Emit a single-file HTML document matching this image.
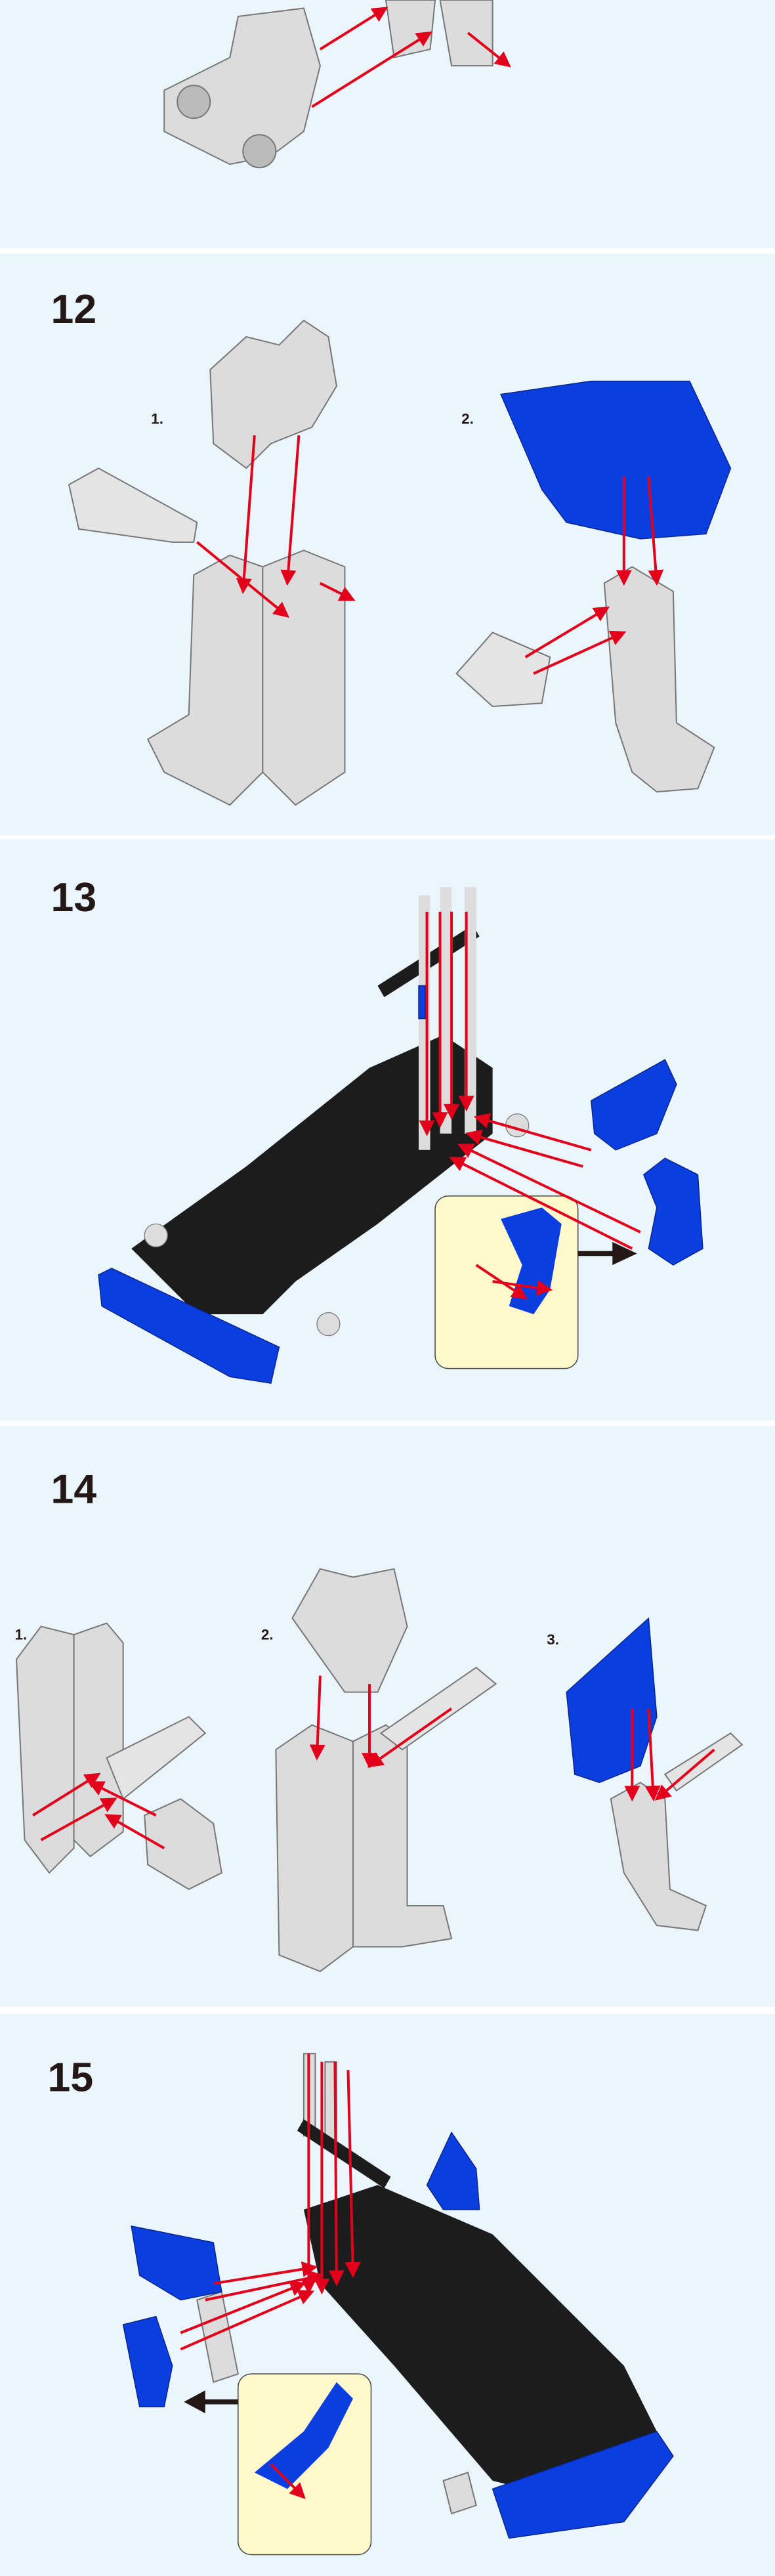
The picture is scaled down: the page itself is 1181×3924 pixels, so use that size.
<!DOCTYPE html>
<html><head><meta charset="utf-8"><style>
html,body{margin:0;padding:0;background:#fff}
svg{display:block}
</style></head><body>
<svg width="1181" height="3924" viewBox="0 0 472 1568" preserveAspectRatio="none" xmlns="http://www.w3.org/2000/svg">
<defs>
<marker id="ah" markerWidth="6" markerHeight="6" refX="5" refY="3" orient="auto" markerUnits="strokeWidth"><path d="M0,0 L6,3 L0,6 z" fill="#e3001b"/></marker>
</defs>
<g fill="#eaf5fc">
<rect x="0" y="0" width="472" height="151"/>
<rect x="0" y="154.4" width="472" height="354"/>
<rect x="0" y="511" width="472" height="353.5"/>
<rect x="0" y="868" width="472" height="353.5"/>
<rect x="0" y="1226" width="472" height="342"/>
</g>
<g font-family="Liberation Sans, sans-serif" font-weight="bold" fill="#231815">
<text x="31" y="196.6" font-size="25">12</text>
<text x="31" y="554.6" font-size="25">13</text>
<text x="31" y="914.8" font-size="25">14</text>
<text x="29" y="1273" font-size="25">15</text>
<text x="92" y="258" font-size="9">1.</text>
<text x="281" y="258" font-size="9">2.</text>
<text x="9" y="998" font-size="9">1.</text>
<text x="159" y="998" font-size="9">2.</text>
<text x="333" y="1001" font-size="9">3.</text>
</g>
<g stroke="#777" stroke-width="0.8" fill="#dcdcdc">
<!-- panel 1 -->
<path d="M100,55 L140,35 L145,10 L185,5 L195,40 L185,80 L165,95 L140,100 L100,80 Z"/>
<circle cx="118" cy="62" r="10" fill="#bbb"/><circle cx="158" cy="92" r="10" fill="#bbb"/>
<path d="M235,0 L265,0 L262,30 L240,35 Z"/><path d="M268,0 L300,0 L300,40 L275,40 Z"/>
<!-- panel 2 -->
<path d="M128,225 L150,205 L170,210 L185,195 L200,205 L205,235 L190,260 L165,270 L150,285 L130,270 Z"/>
<path d="M42,295 L60,285 L120,318 L118,330 L105,330 L48,322 Z" fill="#e4e4e4"/>
<path d="M118,350 L140,338 L160,345 L160,470 L140,490 L100,470 L90,450 L115,435 Z"/>
<path d="M160,345 L185,335 L210,345 L210,470 L180,490 L160,470 Z"/>
<path d="M368,355 L385,345 L410,360 L412,440 L435,455 L425,480 L400,482 L385,470 L375,440 Z"/>
<path d="M278,410 L300,385 L335,400 L330,428 L300,430 Z" fill="#e4e4e4"/>
<!-- panel 3 inset pieces -->
<path d="M275,765 L285,755 L300,758 L300,770 L288,778 Z"/>
<path d="M310,815 L320,812 L322,828 L312,830 Z"/>
<!-- panel 4 -->
<path d="M10,1010 L25,990 L45,995 L45,1125 L30,1140 L15,1120 Z"/>
<path d="M45,995 L65,988 L75,1000 L75,1115 L55,1130 L45,1120 Z"/>
<path d="M65,1070 L115,1045 L125,1055 L75,1095 Z" fill="#e4e4e4"/>
<path d="M88,1105 L110,1095 L130,1110 L135,1140 L115,1150 L90,1135 Z"/>
<path d="M178,985 L195,955 L215,960 L240,955 L248,990 L230,1030 L210,1030 Z"/>
<path d="M168,1065 L190,1050 L215,1060 L215,1185 L195,1200 L170,1190 Z"/>
<path d="M215,1060 L235,1050 L248,1060 L248,1160 L270,1160 L275,1180 L245,1185 L215,1185 Z"/>
<path d="M232,1055 L290,1015 L302,1025 L245,1065 Z" fill="#e4e4e4"/>
<path d="M372,1095 L390,1085 L405,1095 L408,1150 L430,1160 L425,1175 L400,1172 L380,1140 Z"/>
<path d="M405,1080 L445,1055 L452,1062 L412,1090 Z" fill="#e4e4e4"/>
<!-- panel 5 grey bits -->
<path d="M120,1400 L135,1395 L145,1445 L130,1450 Z"/>
<path d="M185,1250 L192,1250 L192,1300 L185,1300 Z"/>
<path d="M198,1255 L205,1255 L205,1305 L198,1305 Z"/>
<path d="M150,1460 L165,1455 L170,1475 L155,1480 Z"/>
<path d="M270,1510 L285,1505 L290,1525 L275,1530 Z"/>
</g>
<!-- black chassis panel 3 -->
<path d="M80,760 L150,710 L225,650 L270,630 L300,650 L300,690 L230,745 L180,780 L160,800 L120,800 Z" fill="#1c1c1c"/>
<path d="M230,600 L288,563 L292,570 L234,607 Z" fill="#1c1c1c"/>
<path d="M255,545 L262,545 L262,700 L255,700 Z" fill="#ddd"/>
<path d="M268,540 L275,540 L275,690 L268,690 Z" fill="#ddd"/>
<path d="M283,540 L290,540 L290,690 L283,690 Z" fill="#ddd"/>
<circle cx="95" cy="752" r="7" fill="#ddd" stroke="#777" stroke-width="0.5"/>
<circle cx="200" cy="806" r="7" fill="#ddd" stroke="#777" stroke-width="0.5"/>
<circle cx="315" cy="685" r="7" fill="#ddd" stroke="#777" stroke-width="0.5"/>
<!-- blue parts panel 3 -->
<g fill="#0a3ee0" stroke="#08268a" stroke-width="0.6">
<path d="M60,776 L68,772 L170,820 L165,842 L140,838 L62,795 Z"/>
<path d="M360,670 L405,645 L412,660 L400,690 L375,700 L362,690 Z"/>
<path d="M392,715 L405,705 L425,715 L428,760 L410,770 L395,760 L400,735 Z"/>
<path d="M255,600 L259,600 L259,620 L255,620 Z"/>
</g>
<rect x="265" y="728" width="87" height="105" rx="8" fill="#fff9cc" stroke="#444" stroke-width="0.6"/>
<path d="M305,742 L330,735 L342,745 L335,785 L325,800 L310,795 L318,770 Z" fill="#0a3ee0"/>
<path d="M352,763 L375,763" stroke="#231815" stroke-width="3"/>
<path d="M373,756 L388,763 L373,770 Z" fill="#231815"/>
<!-- panel 2 blue shield -->
<path d="M305,240 L360,232 L420,232 L445,285 L430,325 L390,328 L345,318 L330,298 Z" fill="#0a3ee0" stroke="#08268a" stroke-width="0.6"/>
<!-- panel 4 blue -->
<path d="M345,1030 L395,985 L400,1045 L390,1075 L365,1085 L350,1080 Z" fill="#0a3ee0" stroke="#08268a" stroke-width="0.6"/>
<!-- panel 5 chassis -->
<path d="M185,1345 L230,1330 L300,1360 L380,1440 L405,1490 L360,1525 L300,1510 L240,1440 L195,1390 Z" fill="#1c1c1c"/>
<path d="M185,1290 L238,1325 L234,1332 L181,1297 Z" fill="#1c1c1c"/>
<g fill="#0a3ee0" stroke="#08268a" stroke-width="0.6">
<path d="M300,1515 L400,1480 L410,1495 L380,1535 L310,1545 Z"/>
<path d="M80,1355 L130,1365 L135,1395 L110,1400 L85,1385 Z"/>
<path d="M75,1415 L95,1410 L105,1440 L100,1465 L85,1465 Z"/>
<path d="M260,1330 L275,1298 L290,1320 L292,1345 L270,1345 Z"/>
</g>
<rect x="145" y="1445" width="81" height="110" rx="8" fill="#fff9cc" stroke="#444" stroke-width="0.6"/>
<path d="M155,1505 L185,1480 L205,1450 L215,1460 L200,1490 L175,1515 Z" fill="#0a3ee0"/>
<path d="M145,1462 L122,1462" stroke="#231815" stroke-width="3"/>
<path d="M125,1455 L112,1462 L125,1469 Z" fill="#231815"/>
<!-- red arrows -->
<g stroke="#e3001b" stroke-width="1.6" fill="none" marker-end="url(#ah)">
<path d="M190,65 L262,20"/><path d="M195,30 L235,5"/><path d="M285,20 L310,40"/>
<path d="M155,265 L148,360"/><path d="M182,265 L175,355"/><path d="M120,330 L175,375"/><path d="M195,355 L215,365"/>
<path d="M380,290 L380,355"/><path d="M395,290 L400,355"/><path d="M320,400 L370,370"/><path d="M325,410 L380,385"/>
<path d="M260,555 L260,690"/><path d="M268,555 L268,685"/><path d="M275,555 L275,680"/><path d="M284,555 L284,675"/>
<path d="M360,700 L290,680"/><path d="M355,710 L285,690"/><path d="M390,750 L280,697"/><path d="M385,760 L275,705"/>
<path d="M290,770 L320,790"/><path d="M300,780 L335,785"/>
<path d="M20,1105 L60,1080"/><path d="M25,1120 L70,1095"/><path d="M95,1105 L55,1085"/><path d="M100,1125 L65,1105"/>
<path d="M195,1020 L193,1070"/><path d="M225,1025 L225,1075"/><path d="M275,1040 L225,1075"/>
<path d="M385,1040 L385,1095"/><path d="M395,1040 L398,1095"/><path d="M435,1065 L400,1095"/>
<path d="M188,1250 L188,1395"/><path d="M196,1255 L196,1395"/><path d="M204,1255 L205,1390"/><path d="M212,1260 L215,1385"/>
<path d="M110,1420 L185,1390"/><path d="M110,1430 L190,1395"/><path d="M130,1390 L192,1380"/><path d="M125,1400 L196,1385"/>
<path d="M165,1500 L185,1520"/>
</g>
</svg>
</body></html>
